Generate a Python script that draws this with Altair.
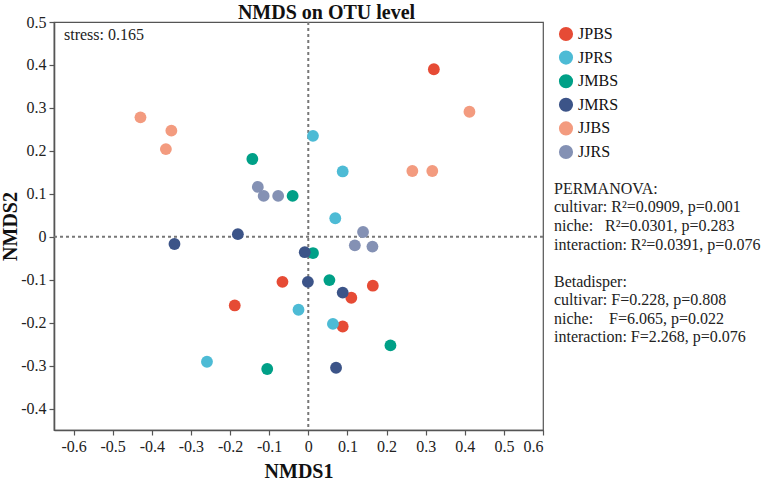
import altair as alt
import pandas as pd

# ---- data ----
groups = ["JPBS", "JPRS", "JMBS", "JMRS", "JJBS", "JJRS"]
colors = ["#E64B35", "#4DBBD5", "#00A087", "#3C5488", "#F39B7F", "#8491B4"]

jpbs_x = [0.321, -0.066, 0.165, 0.110, 0.088, -0.188]
jpbs_y = [0.390, -0.105, -0.114, -0.142, -0.209, -0.160]
jprs_x = [0.012, 0.088, 0.069, -0.025, 0.063, -0.259]
jprs_y = [0.235, 0.152, 0.043, -0.170, -0.203, -0.291]
jmbs_x = [-0.143, -0.040, 0.012, 0.054, 0.210, -0.105]
jmbs_y = [0.181, 0.095, -0.038, -0.101, -0.253, -0.308]
jmrs_x = [-0.180, -0.342, -0.009, -0.001, 0.088, 0.071]
jmrs_y = [0.006, -0.017, -0.036, -0.105, -0.130, -0.305]
jjbs_x = [-0.429, -0.350, -0.364, 0.412, 0.266, 0.317]
jjbs_y = [0.278, 0.247, 0.204, 0.291, 0.153, 0.153]
jjrs_x = [-0.129, -0.114, -0.077, 0.140, 0.119, 0.164]
jjrs_y = [0.116, 0.095, 0.095, 0.011, -0.020, -0.023]

x_ticks = [-0.6, -0.5, -0.4, -0.3, -0.2, -0.1, 0, 0.1, 0.2, 0.3, 0.4, 0.5, 0.6]
y_ticks = [-0.4, -0.3, -0.2, -0.1, 0, 0.1, 0.2, 0.3, 0.4, 0.5]
ref_zero = [0]

stress_label = "stress: 0.165"
NB = "\u00a0"
permanova_lines = [
    "PERMANOVA:",
    "cultivar: R²=0.0909, p=0.001",
    "niche:" + NB * 3 + "R²=0.0301, p=0.283",
    "interaction: R²=0.0391, p=0.076",
]
betadisper_lines = [
    "Betadisper:",
    "cultivar: F=0.228, p=0.808",
    "niche:" + NB * 4 + "F=6.065, p=0.022",
    "interaction: F=2.268, p=0.076",
]

xs = [jpbs_x, jprs_x, jmbs_x, jmrs_x, jjbs_x, jjrs_x]
ys = [jpbs_y, jprs_y, jmbs_y, jmrs_y, jjbs_y, jjrs_y]
rows = []
for g, xv, yv in zip(groups, xs, ys):
    for a, b in zip(xv, yv):
        rows.append({"group": g, "NMDS1": a, "NMDS2": b})
df = pd.DataFrame(rows)
zero_df = pd.DataFrame({"zero": ref_zero})

FONT = "Liberation Serif"
W, H = 489, 408

xscale = alt.Scale(domain=[-0.65, 0.6], nice=False, zero=False)
yscale = alt.Scale(domain=[-0.45, 0.5], nice=False, zero=False)

points = alt.Chart(df).mark_circle(size=140, opacity=1).encode(
    x=alt.X("NMDS1:Q", scale=xscale,
            axis=alt.Axis(values=x_ticks, labelExpr="'' + datum.value", title="NMDS1")),
    y=alt.Y("NMDS2:Q", scale=yscale,
            axis=alt.Axis(values=y_ticks, labelExpr="'' + datum.value", title="NMDS2")),
    color=alt.Color("group:N", scale=alt.Scale(domain=groups, range=colors),
                    legend=alt.Legend(orient="none", legendX=504, legendY=4, title=None,
                                      symbolType="circle", symbolSize=200,
                                      symbolStrokeWidth=0, labelFont=FONT,
                                      labelFontSize=16, labelColor="#111",
                                      labelOffset=4, rowPadding=7.6, padding=0)),
)

vline = alt.Chart(zero_df).mark_rule(color="#777", strokeDash=[3, 3], strokeWidth=2).encode(
    x=alt.X("zero:Q", scale=xscale))
hline = alt.Chart(zero_df).mark_rule(color="#777", strokeDash=[3, 3], strokeWidth=2).encode(
    y=alt.Y("zero:Q", scale=yscale))

stress = alt.Chart(zero_df).mark_text(
    text=stress_label, align="left", baseline="middle", font=FONT, fontSize=16, color="#222"
).encode(x=alt.value(10), y=alt.value(13))

stats1 = alt.Chart(zero_df).mark_text(
    text=permanova_lines, align="left", baseline="middle", font=FONT, fontSize=16,
    color="#222", lineHeight=18.8
).encode(x=alt.value(500), y=alt.value(166.5))

stats2 = alt.Chart(zero_df).mark_text(
    text=betadisper_lines, align="left", baseline="middle", font=FONT, fontSize=16,
    color="#222", lineHeight=18.6
).encode(x=alt.value(500), y=alt.value(259.5))

chart = alt.layer(vline, hline, points, stress, stats1, stats2).properties(
    width=W, height=H,
    title=alt.TitleParams("NMDS on OTU level", font=FONT, fontSize=20, fontWeight="bold",
                          color="#111", anchor="middle", dx=28, dy=12, offset=3),
    autosize=alt.AutoSizeParams(type="none"),
    padding={"left": 54, "top": 22, "right": 224, "bottom": 51},
).configure_view(stroke="#555", strokeWidth=1.2).configure_axis(
    grid=False, labelFont=FONT, labelFontSize=16, labelColor="#222",
    tickColor="#555", tickSize=5, tickWidth=1.2, domainColor="#555", domainWidth=1.6,
    labelPadding=3, titleFont=FONT, titleFontSize=20, titleFontWeight="bold",
    titleColor="#111",
).configure_axisX(titlePadding=7).configure_axisY(titlePadding=0)

chart.save("out.html", embed_options={"renderer": "svg", "actions": False})
